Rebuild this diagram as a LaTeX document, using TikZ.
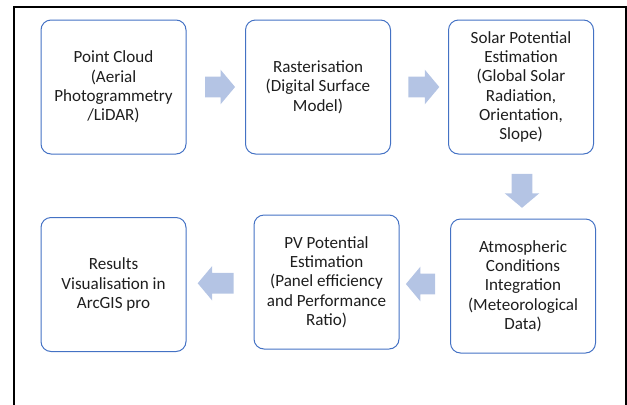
\documentclass[tikz,border=0pt]{standalone}
\usepackage{fontspec}
\setmainfont{Carlito}
\usetikzlibrary{shapes.arrows,calc}
\definecolor{boxblue}{RGB}{68,114,196}
\definecolor{arrowblue}{RGB}{180,196,228}
\definecolor{txtgrey}{RGB}{30,30,30}
\begin{document}
\begin{tikzpicture}[x=0.75pt,y=0.75pt,yscale=-1,xscale=1,
  stage/.style={draw=boxblue,line width=0.75pt,rounded corners=7.5pt,minimum width=108.75pt,minimum height=100.5pt,align=center,text=txtgrey,font=\fontsize{12.8}{14.5}\selectfont,inner sep=0pt},
  blockarrow/.style={single arrow,fill=arrowblue,draw=none,inner sep=7.5pt,single arrow head extend=5.25pt,single arrow tip angle=100}]
\clip (0,0) rectangle (627,404);
\useasboundingbox (0,0) rectangle (627,404);

%Frame
\draw [line width=1pt] (14,410) -- (14,7) -- (626,7) -- (626,410) ;

% Stages
\node [stage] (cloud) at (113.5,87) {Point Cloud\\(Aerial\\Photogrammetry\\/LiDAR)};
\node [stage] (raster) at (318,87) {Rasterisation\\(Digital Surface\\Model)};
\node [stage] (solar) at (521,87) {Solar Potential\\Estimation\\(Global Solar\\Radiation,\\Orientation,\\Slope)};
\node [stage] (atmos) at (523,286) {Atmospheric\\Conditions\\Integration\\(Meteorological\\Data)};
\node [stage] (pv) at (326.5,282) {PV Potential\\Estimation\\(Panel efficiency\\and Performance\\Ratio)};
\node [stage] (results) at (113.5,284.5) {Results\\Visualisation in\\ArcGIS pro};

% Block arrows
\node [blockarrow,minimum height=22.5pt] (a1) at ($(cloud.east)!0.5!(raster.west)$) {};
\node [blockarrow,minimum height=23.25pt] (a2) at ($(raster.east)!0.5!(solar.west)$) {};
\node [blockarrow,minimum height=25.5pt,shape border rotate=270] (a3) at ($(solar.south)!0.5!(atmos.north)$) {};
\node [blockarrow,minimum height=19.5pt,shape border rotate=180] (a4) at ($(atmos.west)!0.5!(pv.east)$) {};
\node [blockarrow,minimum height=27pt,shape border rotate=180] (a5) at ($(pv.west)!0.5!(results.east)$) {};
\end{tikzpicture}
\end{document}
